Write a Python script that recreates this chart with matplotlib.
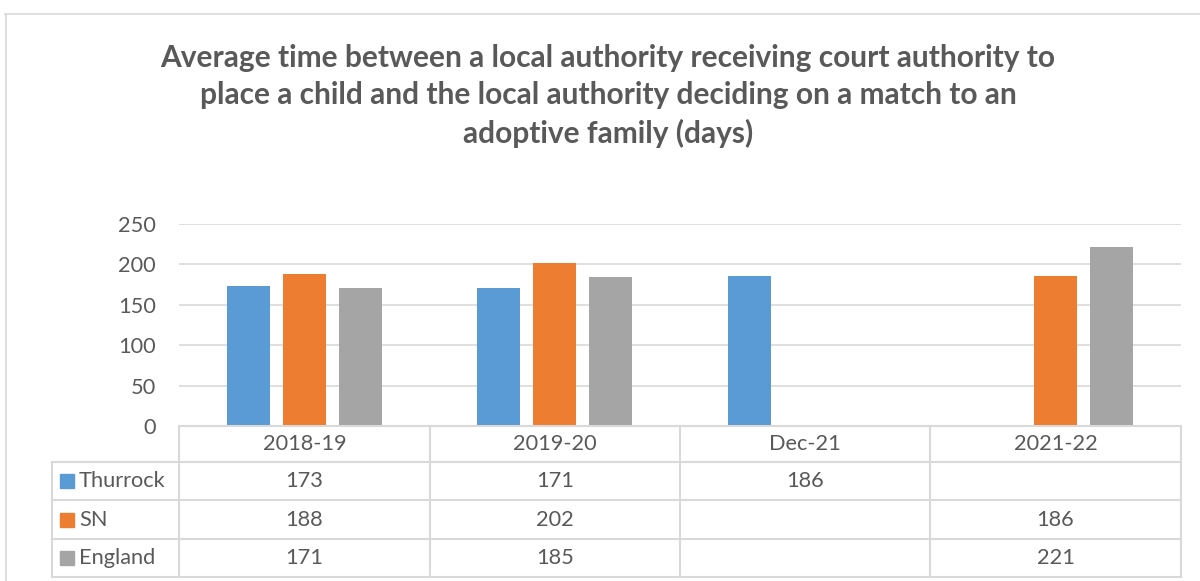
import matplotlib
matplotlib.use("Agg")
import matplotlib.pyplot as plt
import numpy as np
from matplotlib.lines import Line2D
from matplotlib.patches import Rectangle

categories = ["2018-19", "2019-20", "Dec-21", "2021-22"]
series_names = ["Thurrock", "SN", "England"]
thurrock = [173, 171, 186, None]
sn = [188, 202, None, 186]
england = [171, 185, None, 221]
yticks = [0, 50, 100, 150, 200, 250]

colors = ["#5B9BD5", "#ED7D31", "#A5A5A5"]
text_c = "#595959"
grid_c = "#D9D9D9"
FONT = "Lato"
FS = 15.7

W, H = 1200, 581
fig = plt.figure(figsize=(W / 100, H / 100), dpi=100)

def fx(px):
    return px / W

def fy(py):
    return 1 - py / H

# outer chart frame
fig.add_artist(Line2D([fx(5), 1.0], [fy(14), fy(14)], color=grid_c, lw=1.2))
fig.add_artist(Line2D([fx(6), fx(6)], [fy(14), 0.0], color=grid_c, lw=1.2))

x_left, x_right = 179, 1181
y_top, y_zero = 224, 426
ax = fig.add_axes([fx(x_left), fy(y_zero), fx(x_right - x_left), fy(y_top) - fy(y_zero)])
ax.set_xlim(-0.5, len(categories) - 0.5)
ax.set_ylim(0, 250)

series = [thurrock, sn, england]
bw = 0.172
step = 0.2235
x = np.arange(len(categories))
for i, (vals, c) in enumerate(zip(series, colors)):
    v = np.array([np.nan if a is None else a for a in vals], dtype=float)
    ax.bar(x + (i - 1) * step, v, width=bw, color=c, zorder=3)

ax.set_yticks(yticks)
ax.yaxis.grid(True, color=grid_c, lw=1.2)
ax.set_axisbelow(True)
for s in ax.spines.values():
    s.set_visible(False)
ax.tick_params(axis="y", length=0, pad=16.5, labelsize=FS, labelcolor=text_c)
ax.tick_params(axis="x", length=0, labelbottom=False)
for lab in ax.get_yticklabels():
    lab.set_family(FONT)

# data table
col_edges = [179, 430, 680, 930, 1181]
row_edges = [426, 462, 500, 539, 577]
legend_left = 52
lkw = dict(color=grid_c, lw=1.5)
fig.add_artist(Line2D([fx(179), fx(1181)], [fy(426), fy(426)], **lkw))
for r in row_edges[1:]:
    fig.add_artist(Line2D([fx(legend_left), fx(1181)], [fy(r), fy(r)], **lkw))
for c in col_edges:
    fig.add_artist(Line2D([fx(c), fx(c)], [fy(426), fy(577)], **lkw))
fig.add_artist(Line2D([fx(legend_left), fx(legend_left)], [fy(462), fy(577)], **lkw))

tkw = dict(color=text_c, fontsize=FS, family=FONT, ha="center", va="center")
for j, cat in enumerate(categories):
    cx = (col_edges[j] + col_edges[j + 1]) / 2
    fig.text(fx(cx), fy((row_edges[0] + row_edges[1]) / 2), cat, **tkw)
for i, (name, vals, c) in enumerate(zip(series_names, series, colors)):
    cy = (row_edges[i + 1] + row_edges[i + 2]) / 2
    fig.add_artist(Rectangle((fx(60), fy(cy + 7)), fx(14), fy(cy - 7) - fy(cy + 7),
                             color=c, transform=fig.transFigure))
    fig.text(fx(79), fy(cy), name, color=text_c, fontsize=FS, family=FONT,
             ha="left", va="center")
    for j, v in enumerate(vals):
        if v is None:
            continue
        cx = (col_edges[j] + col_edges[j + 1]) / 2
        fig.text(fx(cx), fy(cy), str(v), **tkw)

title = ("Average time between a local authority receiving court authority to\n"
         "place a child and the local authority deciding on a match to an\n"
         "adoptive family (days)")
fig.text(fx(608), fy(96), title, ha="center", va="center", fontsize=21.5,
         fontweight="bold", color=text_c, family=FONT, linespacing=1.42)

fig.savefig("out.png", dpi=100)
